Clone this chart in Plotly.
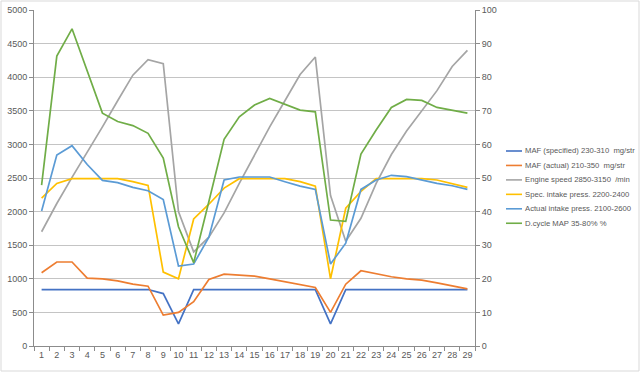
import plotly.graph_objects as go

x = list(range(1, 30))

maf_spec = [840, 840, 840, 840, 840, 840, 840, 840, 780, 330, 840, 840, 840, 840, 840,
            840, 840, 840, 840, 330, 840, 840, 840, 840, 840, 840, 840, 840, 840]
maf_actual = [1090, 1250, 1250, 1010, 1000, 970, 920, 890, 460, 500, 660, 990, 1070, 1050, 1040,
              1000, 960, 920, 870, 500, 920, 1120, 1070, 1030, 1000, 980, 940, 890, 850]
engine_speed = [1700, 2120, 2510, 2880, 3260, 3650, 4030, 4260, 4200, 2000, 1400, 1620, 1980, 2420, 2850,
                3260, 3650, 4040, 4300, 2240, 1560, 1900, 2420, 2850, 3200, 3500, 3800, 4160, 4400]
spec_intake = [2200, 2420, 2490, 2490, 2490, 2490, 2445, 2390, 1100, 1000, 1890, 2110, 2350, 2490, 2490,
               2490, 2490, 2445, 2380, 1000, 2050, 2300, 2490, 2490, 2490, 2490, 2470, 2420, 2360]
actual_intake = [2010, 2840, 2980, 2700, 2465, 2430, 2360, 2310, 2180, 1190, 1220, 1620, 2470, 2515, 2515,
                 2515, 2445, 2380, 2330, 1220, 1530, 2330, 2470, 2540, 2520, 2470, 2420, 2385, 2330]
dcycle_map = [47.9, 86.3, 94.4, 82.0, 69.3, 66.8, 65.6, 63.3, 55.9, 35.5, 24.8, 43.0, 61.5, 68.2, 71.7,
              73.7, 71.9, 70.2, 69.7, 37.5, 37.1, 57.1, 64.3, 71.0, 73.4, 73.1, 71.0, 70.2, 69.3]

names = ["MAF (specified) 230-310  mg/str", "MAF (actual) 210-350  mg/str",
         "Engine speed 2850-3150  /min", "Spec. intake press. 2200-2400",
         "Actual intake press. 2100-2600", "D.cycle MAP 35-80% %"]
colors = ["#4472C4", "#ED7D31", "#A5A5A5", "#FFC000", "#5B9BD5", "#70AD47"]
series = [maf_spec, maf_actual, engine_speed, spec_intake, actual_intake, dcycle_map]

fig = go.Figure()
for i, (nm, col, ys) in enumerate(zip(names, colors, series)):
    fig.add_trace(go.Scatter(x=x, y=ys, name=nm, mode="lines",
                             line=dict(color=col, width=1.7),
                             yaxis="y2" if i == 5 else "y"))

L, R, T, B = 34, 475, 10, 346
W, H = 640, 374
pw, ph = R - L, B - T

def px2x(p):
    return (p - L) / pw

def py2y(p):
    return (B - p) / ph

font = dict(family="Liberation Sans, Arial, sans-serif", size=9, color="#595959")
fig.update_layout(
    width=W, height=H,
    margin=dict(l=L, r=W - R, t=T, b=H - B, autoexpand=False),
    paper_bgcolor="white", plot_bgcolor="white",
    font=font,
    showlegend=False,
    xaxis=dict(range=[0.5, 29.5], tickvals=x, ticktext=[str(v) for v in x],
               showgrid=False, zeroline=False, showline=True, linecolor="#8c8c8c",
               ticks="", tickfont=font,
               minor=dict(tick0=0.5, dtick=1, ticks="outside", ticklen=4, tickcolor="#8c8c8c")),
    yaxis=dict(range=[0, 5000], dtick=500, showgrid=True, gridcolor="#c4c4c4", gridwidth=1,
               zeroline=False, showline=True, linecolor="#8c8c8c", ticks="outside",
               ticklen=4, tickcolor="#8c8c8c", tickfont=font),
    yaxis2=dict(range=[0, 100], dtick=10, overlaying="y", side="right", showgrid=False,
                zeroline=False, showline=True, linecolor="#8c8c8c", ticks="outside",
                ticklen=4, tickcolor="#8c8c8c", tickfont=font),
)

# legend (drawn manually to match compact spacing)
leg_y0, leg_dy = 151, 14.45
for i, (nm, col) in enumerate(zip(names, colors)):
    yy = py2y(leg_y0 + i * leg_dy)
    fig.add_shape(type="line", xref="paper", yref="paper",
                  x0=px2x(506), x1=px2x(522), y0=yy, y1=yy,
                  line=dict(color=col, width=1.6))
    fig.add_annotation(xref="paper", yref="paper", x=px2x(523), y=yy,
                       text=nm, showarrow=False, xanchor="left", yanchor="middle",
                       font=dict(family="Liberation Sans, Arial, sans-serif", size=7.7, color="#595959"))

fig.add_shape(type="rect", xref="paper", yref="paper",
              x0=px2x(1), x1=px2x(639), y0=py2y(371), y1=py2y(1),
              line=dict(color="#d9d9d9", width=1), fillcolor="rgba(0,0,0,0)", layer="below")

fig.write_html("out.html", config={"displayModeBar": False},
               post_script="document.body.style.margin='0';")
